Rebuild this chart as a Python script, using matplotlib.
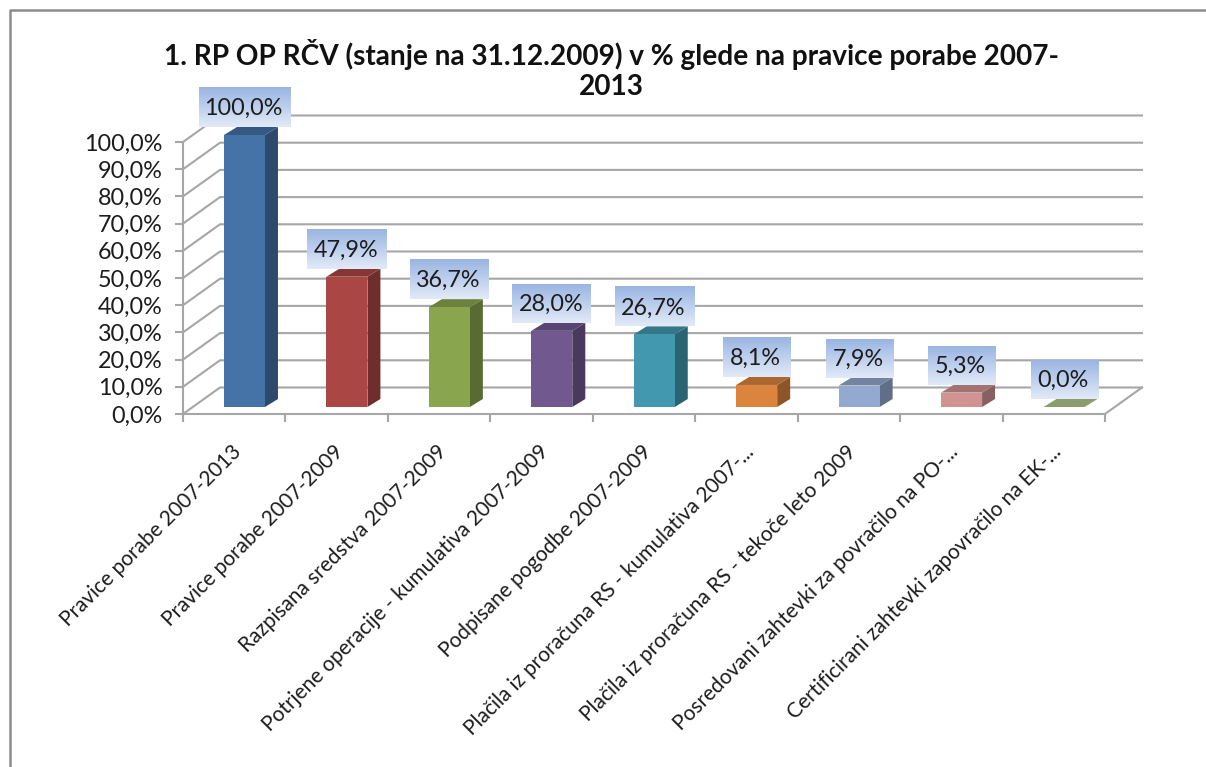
import numpy as np
import matplotlib
matplotlib.use('Agg')
import matplotlib.pyplot as plt
from matplotlib.lines import Line2D
from matplotlib.colors import to_rgb

categories = ['Pravice porabe 2007-2013', 'Pravice porabe 2007-2009', 'Razpisana sredstva 2007-2009',
              'Potrjene operacije - kumulativa 2007-2009', 'Podpisane pogodbe 2007-2009',
              'Plačila iz proračuna RS - kumulativa 2007-...', 'Plačila iz proračuna RS - tekoče leto 2009',
              'Posredovani zahtevki za povračilo na PO-...', 'Certificirani zahtevki zapovračilo na EK-...']
values = [100.0, 47.9, 36.7, 28.0, 26.7, 8.1, 7.9, 5.3, 0.0]
colors = ['#4572a7', '#aa4643', '#89a54e', '#71588f', '#4198af', '#db843d', '#93a9cf', '#d19392', '#8a9d6e']
y_ticks = list(range(0, 101, 10))
title_lines = ['1. RP OP RČV (stanje na 31.12.2009) v % glede na pravice porabe 2007-', '2013']

W, H = 1206, 767
LEFT, RIGHT, BOTTOM, TOP = 183, 1105, 414, 142
GRID = '#a6a6a6'
TEXT = '#1c1c1c'

plt.rcParams['font.family'] = ['Lato', 'DejaVu Sans']

fig = plt.figure(figsize=(W / 100, H / 100), dpi=100)
ax = fig.add_axes([LEFT / W, 1 - BOTTOM / H, (RIGHT - LEFT) / W, (BOTTOM - TOP) / H])

# px -> data units
px_x = len(categories) / (RIGHT - LEFT)
px_y = 100 / (BOTTOM - TOP)
wall_dx, wall_dy = 37 * px_x, 26.5 * px_y
base = 7 * px_y
bar_dx, bar_dy = 13 * px_x, 8 * px_y
width = 41 * px_x
offset = 0.6


def darker(c, f):
    return tuple(v * f for v in to_rgb(c))


# walls and floor
n = len(categories)
for t in y_ticks:
    ax.plot([0, wall_dx, n + wall_dx], [t, t + wall_dy, t + wall_dy], color=GRID, lw=1.5,
            clip_on=False, zorder=1, solid_joinstyle='miter')
ax.plot([n, n + wall_dx], [0, wall_dy], color=GRID, lw=1.5, clip_on=False, zorder=1)

# 3d looking bars
for i, (v, c) in enumerate(zip(values, colors)):
    x0 = i + offset - width / 2
    x1 = x0 + width
    y0 = base
    y1 = base + v
    ax.fill([x1, x1 + bar_dx, x1 + bar_dx, x1], [y0, y0 + bar_dy, y1 + bar_dy, y1],
            color=darker(c, 0.65), lw=0, clip_on=False, zorder=3)
    ax.fill([x0, x0 + bar_dx, x1 + bar_dx, x1], [y1, y1 + bar_dy, y1 + bar_dy, y1],
            color=c if v == 0 else darker(c, 0.78), lw=0, clip_on=False, zorder=3)
    ax.bar(i + offset, v, width=width, bottom=base, color=c, lw=0, clip_on=False, zorder=3)

# data labels with gradient box
grad = np.linspace(0, 1, 64).reshape(-1, 1, 1)
top_c = np.array(to_rgb('#9ab5e2'))
bot_c = np.array(to_rgb('#e2eaf8'))
grad = top_c * (1 - grad) + bot_c * grad
for i, v in enumerate(values):
    label = f'{v:.1f}%'.replace('.', ',')
    box_w = (19 + 12 * len(label)) * px_x
    y0 = base + v + 8 * px_y
    y1 = y0 + 39 * px_y
    cx = i + offset
    ax.imshow(grad, extent=[cx - box_w / 2, cx + box_w / 2, y0, y1], aspect='auto', origin='upper',
              clip_on=False, zorder=4, interpolation='bilinear')
    ax.text(cx - 1 * px_x, (y0 + y1) / 2 - 1 * px_y, label, ha='center', va='center', fontsize=16.8,
            color=TEXT, zorder=5)

ax.set_xlim(0, n)
ax.set_ylim(0, 100)
ax.set_yticks(y_ticks)
ax.set_yticklabels([f'{t:.1f}%'.replace('.', ',') for t in y_ticks], fontsize=16.8, color=TEXT)
ax.set_xticks(range(n + 1))
ax.set_xticklabels([])
ax.set_xticks(np.arange(n) + 0.47, minor=True)
ax.set_xticklabels(categories, minor=True, rotation=45, ha='right', va='top', rotation_mode='anchor',
                   fontsize=15, color=TEXT)
ax.tick_params(axis='both', which='major', length=5.5, width=1.5, color=GRID)
ax.tick_params(axis='y', pad=9)
ax.tick_params(axis='x', which='minor', length=0, pad=20)
ax.patch.set_visible(False)
for s in ['top', 'right']:
    ax.spines[s].set_visible(False)
for s in ['left', 'bottom']:
    ax.spines[s].set_color(GRID)
    ax.spines[s].set_linewidth(1.5)

# two separate lines, the second one must stay clear of the first data label
fig.text(611 / W, 1 - 54 / H, title_lines[0], ha='center', va='center', fontsize=20.2, fontweight='bold',
         color='#111111')
fig.text(611 / W, 1 - 87 / H, title_lines[1], ha='center', va='center', fontsize=20.2, fontweight='bold',
         color='#111111')

# outer chart frame
fig.add_artist(Line2D([9.5 / W, 9.5 / W, 1], [0, 1 - 9.5 / H, 1 - 9.5 / H], color='#8c8c8c', lw=1.8))

fig.savefig('out.png', dpi=100)
